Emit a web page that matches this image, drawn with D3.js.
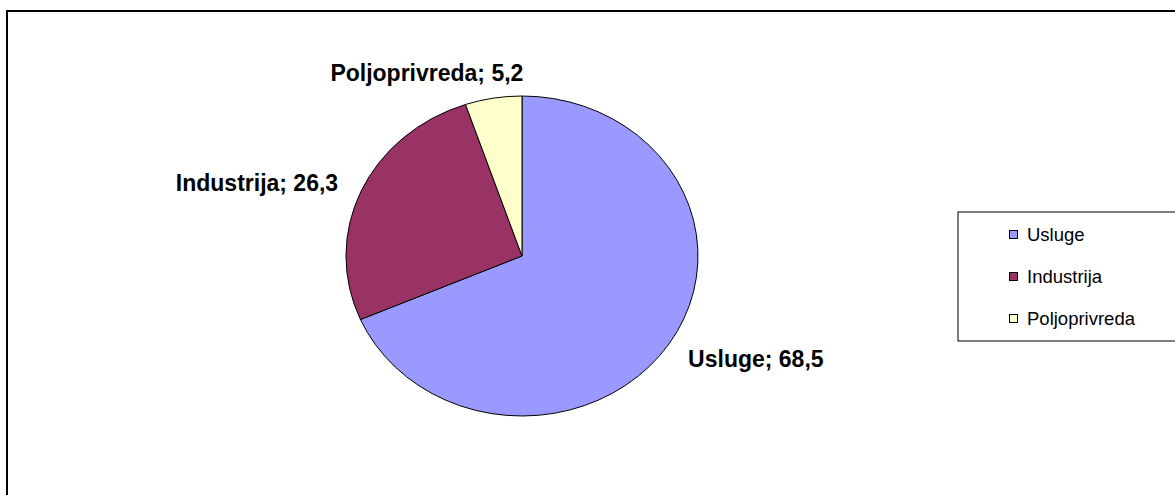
<!DOCTYPE html>
<html>
<head>
<meta charset="utf-8">
<script src="https://cdn.jsdelivr.net/npm/d3@7"></script>
<style>
  html, body { margin: 0; padding: 0; background: #fff; overflow: hidden; }
  svg { display: block; font-family: 'Liberation Sans', Arial, sans-serif; }
</style>
</head>
<body>
<svg id="chart" width="1175" height="495"></svg>
<script>
const categories = ['Usluge', 'Industrija', 'Poljoprivreda'];
const values = [68.5, 26.3, 5.2];
const colors = ['#9999ff', '#993366', '#ffffcc'];

const cx = 522;
const cy = 256;
const rx = 176;
const ry = 160;

const svg = d3.select('#chart');

// chart area frame (right and bottom edges run off the page)
svg.append('rect')
  .attr('x', 7)
  .attr('y', 11)
  .attr('width', 1210)
  .attr('height', 520)
  .attr('fill', '#fff')
  .attr('stroke', '#000')
  .attr('stroke-width', 2);

const data = categories.map((c, i) => ({ name: c, value: values[i], color: colors[i] }));

const pie = d3.pie()
  .sort(null)
  .value(d => d.value);

const arcs = pie(data);

// draw on a unit circle then stretch into the ellipse
const arc = d3.arc().innerRadius(0).outerRadius(1);

const g = svg.append('g')
  .attr('transform', `translate(${cx},${cy}) scale(${rx},${ry})`);

g.selectAll('path')
  .data(arcs)
  .join('path')
  .attr('d', arc)
  .attr('fill', d => d.data.color)
  .attr('stroke', '#000')
  .attr('stroke-width', 1)
  .attr('vector-effect', 'non-scaling-stroke');

// label placement: point on the ellipse edge at mid angle, then nudged like excel does
const nudge = [
  { anchor: 'start', dx: 19, dy: 23 },
  { anchor: 'end', dx: -23, dy: 0 },
  { anchor: 'start', dx: -163, dy: -17 },
];

svg.append('g')
  .selectAll('text')
  .data(arcs)
  .join('text')
  .attr('x', (d, i) => cx + rx * Math.sin((d.startAngle + d.endAngle) / 2) + nudge[i].dx)
  .attr('y', (d, i) => cy - ry * Math.cos((d.startAngle + d.endAngle) / 2) + nudge[i].dy)
  .attr('text-anchor', (d, i) => nudge[i].anchor)
  .attr('font-size', 23)
  .attr('font-weight', 'bold')
  .attr('fill', '#000')
  .text(d => `${d.data.name}; ${String(d.data.value).replace('.', ',')}`);

// legend
const legend = svg.append('g').attr('transform', 'translate(958,212)');

legend.append('rect')
  .attr('width', 220)
  .attr('height', 129)
  .attr('fill', '#fff')
  .attr('stroke', '#000')
  .attr('stroke-width', 1);

const row = d3.scalePoint()
  .domain(categories)
  .range([22, 106]);

const item = legend.selectAll('g.item')
  .data(data)
  .join('g')
  .attr('class', 'item')
  .attr('transform', d => `translate(0,${row(d.name)})`);

item.append('rect')
  .attr('x', 51.5)
  .attr('y', -3.5)
  .attr('width', 8)
  .attr('height', 8)
  .attr('fill', d => d.color)
  .attr('stroke', '#000')
  .attr('stroke-width', 1);

item.append('text')
  .attr('x', 69)
  .attr('y', 7)
  .attr('font-size', 18.5)
  .attr('fill', '#000')
  .text(d => d.name);
</script>
</body>
</html>
